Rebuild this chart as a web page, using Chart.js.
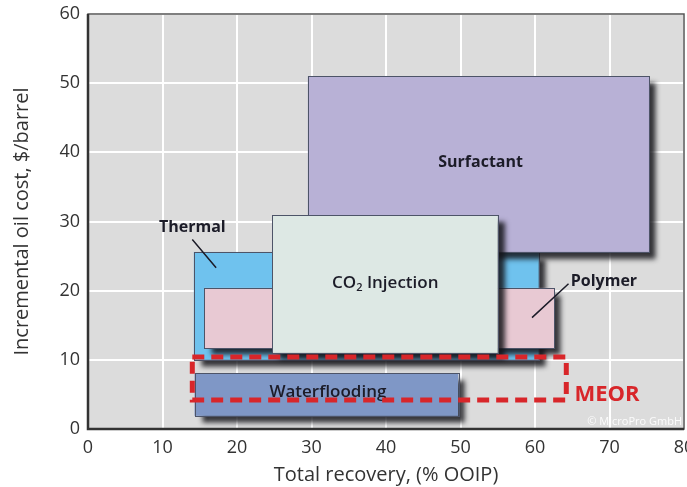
<!DOCTYPE html>
<html>
<head>
<meta charset="utf-8">
<script src="https://cdn.jsdelivr.net/npm/chart.js@4"></script>
<style>
  html, body { margin: 0; padding: 0; background: #fff; }
  #wrap { width: 687px; height: 487px; }
</style>
</head>
<body>
<div id="wrap"><canvas id="eor-chart" width="687" height="487"></canvas></div>
<script>
// EOR methods: recovery range (% OOIP) and incremental cost range ($/barrel)
const methods = ["Thermal", "Polymer", "Surfactant", "CO2 Injection", "Waterflooding"];
const recoveryMin = [14.2, 15.6, 29.5, 24.7, 14.3];
const recoveryMax = [60.5, 62.6, 75.3, 55.0, 49.7];
const costMin = [10.0, 11.7, 25.6, 11.0, 1.9];
const costMax = [25.6, 20.4, 51.0, 30.9, 8.1];

// MEOR outline (dashed)
const meorRecovery = [14.0, 64.2];
const meorCost = [4.2, 10.4];

const xTicks = [0, 10, 20, 30, 40, 50, 60, 70, 80];
const yTicks = [0, 10, 20, 30, 40, 50, 60];

const FILLS = {
  "Thermal": "#6fc2ee",
  "Polymer": "#e8c9d3",
  "Surfactant": "#b8b1d6",
  "CO2 Injection": "#dde8e4",
  "Waterflooding": "#7f97c6",
};

const FONT = "'Open Sans', 'Noto Sans', sans-serif";

const boxesPlugin = {
  id: "eorBoxes",
  beforeDraw(chart) {
    const { ctx, chartArea } = chart;
    ctx.save();
    ctx.fillStyle = "#dcdcdc";
    ctx.fillRect(chartArea.left, chartArea.top, chartArea.right - chartArea.left, chartArea.bottom - chartArea.top);
    ctx.restore();
  },
  afterDatasetsDraw(chart) {
    const { ctx, chartArea } = chart;
    const x = chart.scales.x;
    const y = chart.scales.y;
    const px = (v) => x.getPixelForValue(v);
    const py = (v) => y.getPixelForValue(v);

    ctx.save();
    ctx.beginPath();
    ctx.rect(chartArea.left, chartArea.top, chartArea.right - chartArea.left, chartArea.bottom - chartArea.top);
    ctx.clip();

    methods.forEach((name, i) => {
      const x0 = px(recoveryMin[i]);
      const x1 = px(recoveryMax[i]);
      const y0 = py(costMax[i]);
      const y1 = py(costMin[i]);
      ctx.save();
      ctx.shadowColor = "rgba(20,20,25,0.85)";
      ctx.shadowBlur = 5;
      ctx.shadowOffsetX = 7;
      ctx.shadowOffsetY = 7;
      ctx.fillStyle = FILLS[name];
      ctx.fillRect(x0, y0, x1 - x0, y1 - y0);
      ctx.restore();
      ctx.strokeStyle = "#4d5468";
      ctx.lineWidth = 1;
      ctx.strokeRect(Math.round(x0) + 0.5, Math.round(y0) + 0.5, Math.round(x1 - x0), Math.round(y1 - y0));
    });

    // text labels
    ctx.fillStyle = "#1c1c28";
    ctx.textBaseline = "middle";
    ctx.textAlign = "center";
    ctx.font = "bold 16px " + FONT;
    ctx.fillText("Surfactant", px(52.7), py(38.5));
    ctx.font = "600 17px " + FONT;
    ctx.fillText("Waterflooding", px(32.2), py(5.3));

    // CO2 Injection with subscript
    const base = "CO";
    const rest = " Injection";
    ctx.font = "600 17px " + FONT;
    const wBase = ctx.measureText(base).width;
    const wRest = ctx.measureText(rest).width;
    ctx.font = "600 11px " + FONT;
    const wSub = ctx.measureText("2").width;
    const total = wBase + wSub + wRest;
    let cx = px(39.9) - total / 2;
    const cy = py(21.1);
    ctx.textAlign = "left";
    ctx.font = "600 17px " + FONT;
    ctx.fillText(base, cx, cy);
    cx += wBase;
    ctx.font = "600 11px " + FONT;
    ctx.fillText("2", cx, cy + 5);
    cx += wSub;
    ctx.font = "600 17px " + FONT;
    ctx.fillText(rest, cx, cy);

    ctx.restore();

    // callout labels (may sit outside boxes)
    ctx.save();
    ctx.fillStyle = "#1c1c28";
    ctx.textBaseline = "middle";
    ctx.font = "bold 16px " + FONT;
    ctx.textAlign = "center";
    ctx.fillText("Thermal", px(14.0), py(29.1));
    ctx.textAlign = "left";
    ctx.fillText("Polymer", px(64.8), py(21.3));

    ctx.strokeStyle = "#1c1c28";
    ctx.lineWidth = 1.5;
    ctx.beginPath();
    ctx.moveTo(px(14.0), py(27.4));
    ctx.lineTo(px(17.2), py(23.3));
    ctx.moveTo(px(64.5), py(21.0));
    ctx.lineTo(px(59.6), py(16.1));
    ctx.stroke();

    // MEOR dashed outline
    ctx.strokeStyle = "#d8262a";
    ctx.lineWidth = 5;
    ctx.setLineDash([12, 7]);
    const mx0 = px(meorRecovery[0]);
    const mx1 = px(meorRecovery[1]);
    const my0 = py(meorCost[1]);
    const my1 = py(meorCost[0]);
    ctx.strokeRect(mx0, my0, mx1 - mx0, my1 - my0);
    ctx.setLineDash([]);

    ctx.fillStyle = "#d8262a";
    ctx.font = "bold 22px " + FONT;
    ctx.textAlign = "left";
    ctx.fillText("MEOR", px(65.3), py(5.0));

    ctx.fillStyle = "rgba(255,255,255,0.9)";
    ctx.font = "11px " + FONT;
    ctx.textAlign = "right";
    ctx.fillText("\u00A9 MicroPro GmbH", chartArea.right - 2, py(1.0));

    // plot frame
    ctx.strokeStyle = "#555";
    ctx.lineWidth = 1.5;
    ctx.strokeRect(chartArea.left, chartArea.top, chartArea.right - chartArea.left, chartArea.bottom - chartArea.top);
    ctx.strokeStyle = "#333";
    ctx.lineWidth = 2.5;
    ctx.beginPath();
    ctx.moveTo(chartArea.left, chartArea.top);
    ctx.lineTo(chartArea.left, chartArea.bottom);
    ctx.lineTo(chartArea.right, chartArea.bottom);
    ctx.stroke();
    ctx.restore();
  },
};

const ctx = document.getElementById("eor-chart").getContext("2d");
const chart = new Chart(ctx, {
  type: "scatter",
  data: { datasets: [{ data: [], pointRadius: 0 }] },
  options: {
    animation: false,
    responsive: false,
    devicePixelRatio: 1,
    layout: { padding: { top: 14, right: 3, left: 0, bottom: 0 } },
    plugins: { legend: { display: false }, tooltip: { enabled: false } },
    scales: {
      x: {
        type: "linear",
        min: 0,
        max: 80,
        afterBuildTicks: (scale) => { scale.ticks = xTicks.map((v) => ({ value: v })); },
        afterFit: (scale) => {
          scale.height = 58;
          scale.paddingLeft = 0;
          scale.paddingRight = 0;
        },
        grid: { color: "#ffffff", lineWidth: 2, drawTicks: false },
        border: { display: false },
        ticks: { color: "#333", font: { family: FONT, size: 18 }, padding: 8, maxRotation: 0 },
        title: { display: true, text: "Total recovery, (% OOIP)", color: "#333", font: { family: FONT, size: 20 }, padding: { top: 0, bottom: 0 } },
      },
      y: {
        type: "linear",
        min: 0,
        max: 60,
        afterBuildTicks: (scale) => { scale.ticks = yTicks.map((v) => ({ value: v })); },
        afterFit: (scale) => {
          scale.width = 88;
          scale.paddingTop = 0;
          scale.paddingBottom = 0;
        },
        grid: { color: "#ffffff", lineWidth: 2, drawTicks: false },
        border: { display: false },
        ticks: { color: "#333", font: { family: FONT, size: 18 }, padding: 8 },
        title: { display: true, text: "Incremental oil cost, $/barrel", color: "#333", font: { family: FONT, size: 20 }, padding: { top: 10, bottom: 0 } },
      },
    },
  },
  plugins: [boxesPlugin],
});
</script>
</body>
</html>
